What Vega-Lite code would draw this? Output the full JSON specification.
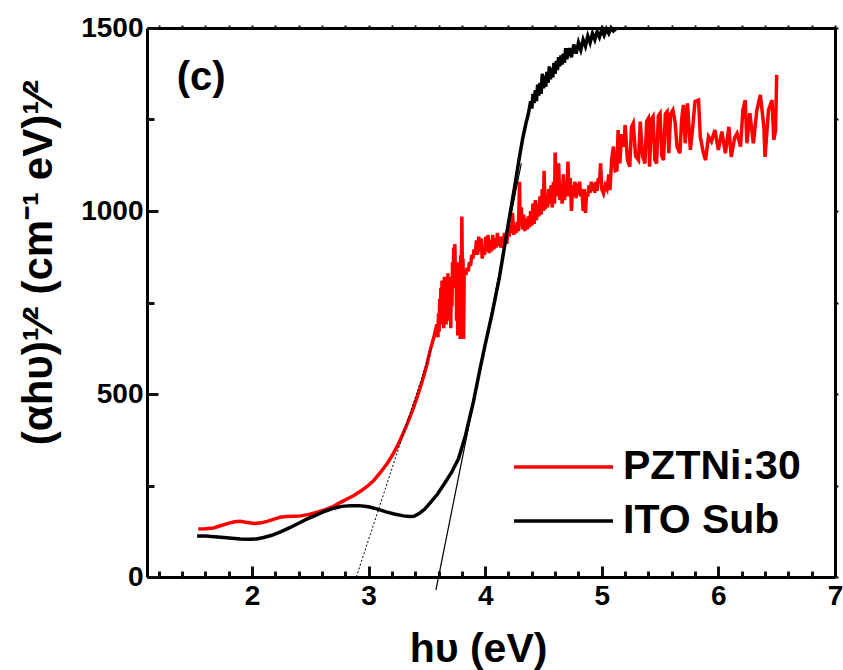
{
"$schema": "https://vega.github.io/schema/vega-lite/v6.json",
"width": 688,
"height": 549,
"autosize": {"type": "none"},
"padding": {"left": 147, "top": 28, "right": 8, "bottom": 93},
"background": "white",
"config": {"view": {"stroke": null}, "font": "Liberation Sans", "axis": {"grid": false}},
"datasets": {
"pztni": [
{"x":1.54,"y":131},{"x":1.60,"y":132},{"x":1.67,"y":134},{"x":1.73,"y":140},{"x":1.79,"y":146},{"x":1.85,"y":151},{"x":1.90,"y":152},{"x":1.96,"y":149},{"x":2.02,"y":146},{"x":2.08,"y":148},{"x":2.13,"y":152},{"x":2.19,"y":158},{"x":2.24,"y":163},{"x":2.30,"y":165},{"x":2.36,"y":166},{"x":2.42,"y":167},{"x":2.49,"y":171},{"x":2.56,"y":177},{"x":2.63,"y":184},{"x":2.70,"y":193},{"x":2.76,"y":204},{"x":2.82,"y":214},{"x":2.87,"y":222},{"x":2.93,"y":234},{"x":2.99,"y":248},{"x":3.04,"y":262},{"x":3.10,"y":285},{"x":3.16,"y":310},{"x":3.21,"y":336},{"x":3.26,"y":366},{"x":3.30,"y":395},{"x":3.34,"y":425},{"x":3.38,"y":458},{"x":3.42,"y":495},{"x":3.46,"y":535},{"x":3.50,"y":580},{"x":3.53,"y":622},{"x":3.56,"y":655},
{"x":3.585,"y":690},{"x":3.595,"y":655},{"x":3.600,"y":720},{"x":3.605,"y":670},{"x":3.610,"y":760},{"x":3.615,"y":700},{"x":3.620,"y":790},{"x":3.625,"y":690},{"x":3.630,"y":810},{"x":3.635,"y":720},{"x":3.640,"y":760},{"x":3.645,"y":680},{"x":3.650,"y":820},{"x":3.655,"y":700},{"x":3.660,"y":770},{"x":3.665,"y":690},{"x":3.670,"y":800},{"x":3.675,"y":700},{"x":3.680,"y":830},{"x":3.685,"y":760},{"x":3.690,"y":720},{"x":3.695,"y":800},{"x":3.700,"y":760},{"x":3.705,"y":680},{"x":3.710,"y":820},{"x":3.715,"y":740},{"x":3.720,"y":860},{"x":3.725,"y":790},{"x":3.730,"y":900},{"x":3.735,"y":800},{"x":3.740,"y":910},{"x":3.745,"y":820},{"x":3.750,"y":860},{"x":3.755,"y":700},{"x":3.760,"y":830},{"x":3.765,"y":660},{"x":3.770,"y":850},{"x":3.775,"y":700},{"x":3.780,"y":860},{"x":3.785,"y":650},{"x":3.790,"y":880},{"x":3.795,"y":800},{"x":3.800,"y":985},{"x":3.805,"y":820},{"x":3.810,"y":870},{"x":3.815,"y":650},{"x":3.820,"y":830},{"x":3.825,"y":840},{"x":3.835,"y":825},{"x":3.845,"y":845},{"x":3.855,"y":835},{"x":3.865,"y":860},{"x":3.875,"y":850},{"x":3.885,"y":880},{"x":3.895,"y":870},{"x":3.905,"y":895},{"x":3.915,"y":880},{"x":3.925,"y":920},{"x":3.935,"y":880},{"x":3.945,"y":930},{"x":3.955,"y":890},{"x":3.965,"y":925},{"x":3.975,"y":870},{"x":3.985,"y":900},{"x":3.995,"y":880},{"x":4.005,"y":930},{"x":4.015,"y":890},{"x":4.025,"y":935},{"x":4.035,"y":885},{"x":4.045,"y":920},{"x":4.055,"y":890},{"x":4.065,"y":935},{"x":4.075,"y":895},{"x":4.085,"y":925},{"x":4.095,"y":900},{"x":4.105,"y":940},{"x":4.115,"y":905},{"x":4.125,"y":930},{"x":4.135,"y":900},{"x":4.145,"y":915},{"x":4.155,"y":905},{"x":4.165,"y":940},{"x":4.175,"y":920},{"x":4.185,"y":910},{"x":4.195,"y":950},{"x":4.205,"y":930},{"x":4.215,"y":960},{"x":4.225,"y":940},{"x":4.235,"y":995},{"x":4.245,"y":935},{"x":4.255,"y":960},{"x":4.265,"y":940},{"x":4.275,"y":970},{"x":4.285,"y":945},{"x":4.295,"y":1080},{"x":4.300,"y":960},{"x":4.310,"y":1010},{"x":4.320,"y":950},{"x":4.330,"y":990},{"x":4.340,"y":945},{"x":4.350,"y":980},{"x":4.360,"y":950},{"x":4.370,"y":985},{"x":4.380,"y":955},{"x":4.390,"y":1000},{"x":4.400,"y":960},{"x":4.410,"y":1020},{"x":4.420,"y":965},{"x":4.430,"y":1030},{"x":4.440,"y":975},{"x":4.450,"y":1020},{"x":4.460,"y":985},{"x":4.470,"y":1040},{"x":4.480,"y":990},{"x":4.490,"y":1060},{"x":4.500,"y":1000},{"x":4.505,"y":1110},{"x":4.515,"y":1005},{"x":4.525,"y":1040},{"x":4.535,"y":1010},{"x":4.545,"y":1060},{"x":4.555,"y":1020},{"x":4.565,"y":1070},{"x":4.575,"y":1010},{"x":4.585,"y":1080},{"x":4.595,"y":1020},{"x":4.600,"y":1160},{"x":4.610,"y":1040},{"x":4.620,"y":1090},{"x":4.630,"y":1130},{"x":4.640,"y":1030},{"x":4.650,"y":1070},{"x":4.660,"y":1020},{"x":4.670,"y":1100},{"x":4.680,"y":1030},{"x":4.690,"y":1080},{"x":4.700,"y":1040},{"x":4.710,"y":1135},{"x":4.720,"y":1040},{"x":4.730,"y":1090},{"x":4.740,"y":1000},{"x":4.750,"y":1070},{"x":4.760,"y":1040},{"x":4.770,"y":1080},{"x":4.780,"y":1035},{"x":4.790,"y":1075},{"x":4.800,"y":1045},{"x":4.810,"y":1080},{"x":4.820,"y":1040},{"x":4.830,"y":1060},{"x":4.840,"y":1000},{"x":4.850,"y":1060},{"x":4.860,"y":995},{"x":4.870,"y":1050},{"x":4.880,"y":1040},{"x":4.890,"y":1070},{"x":4.900,"y":1050},{"x":4.910,"y":1080},{"x":4.920,"y":1055},{"x":4.930,"y":1075},{"x":4.940,"y":1050},{"x":4.950,"y":1080},{"x":4.960,"y":1055},{"x":4.970,"y":1090},{"x":4.980,"y":1076},{"x":4.990,"y":1130},{"x":5.000,"y":1060},{"x":5.015,"y":1048},{"x":5.030,"y":1070},{"x":5.045,"y":1060},{"x":5.060,"y":1100},{"x":5.070,"y":1057},{"x":5.085,"y":1140},{"x":5.100,"y":1176},{"x":5.115,"y":1110},{"x":5.130,"y":1112},{"x":5.140,"y":1221},{"x":5.155,"y":1130},{"x":5.170,"y":1210},{"x":5.190,"y":1176},{"x":5.200,"y":1235},{"x":5.220,"y":1140},{"x":5.240,"y":1121},{"x":5.255,"y":1230},{"x":5.270,"y":1240},{"x":5.290,"y":1150},{"x":5.315,"y":1139},{"x":5.330,"y":1244},{"x":5.350,"y":1150},{"x":5.370,"y":1130},{"x":5.385,"y":1245},{"x":5.400,"y":1253},{"x":5.410,"y":1121},{"x":5.425,"y":1250},{"x":5.440,"y":1258},{"x":5.455,"y":1140},{"x":5.470,"y":1130},{"x":5.485,"y":1260},{"x":5.500,"y":1267},{"x":5.515,"y":1150},{"x":5.530,"y":1139},{"x":5.545,"y":1265},{"x":5.560,"y":1271},{"x":5.575,"y":1158},{"x":5.590,"y":1265},{"x":5.610,"y":1276},{"x":5.630,"y":1240},{"x":5.645,"y":1176},{"x":5.670,"y":1158},{"x":5.685,"y":1250},{"x":5.700,"y":1290},{"x":5.715,"y":1185},{"x":5.735,"y":1294},{"x":5.760,"y":1167},{"x":5.780,"y":1230},{"x":5.800,"y":1299},{"x":5.830,"y":1303},{"x":5.845,"y":1203},{"x":5.870,"y":1160},{"x":5.890,"y":1139},{"x":5.915,"y":1203},{"x":5.940,"y":1190},{"x":5.970,"y":1221},{"x":6.000,"y":1167},{"x":6.030,"y":1217},{"x":6.060,"y":1158},{"x":6.090,"y":1230},{"x":6.110,"y":1148},{"x":6.140,"y":1200},{"x":6.160,"y":1212},{"x":6.190,"y":1176},{"x":6.210,"y":1276},{"x":6.230,"y":1303},{"x":6.245,"y":1185},{"x":6.270,"y":1267},{"x":6.300,"y":1185},{"x":6.330,"y":1276},{"x":6.360,"y":1317},{"x":6.390,"y":1230},{"x":6.400,"y":1148},{"x":6.430,"y":1276},{"x":6.460,"y":1303},{"x":6.475,"y":1194},{"x":6.490,"y":1220},{"x":6.500,"y":1372}
],
"ito": [
{"x":1.53,"y":112},{"x":1.60,"y":112},{"x":1.68,"y":110},{"x":1.76,"y":108},{"x":1.83,"y":106},{"x":1.90,"y":104},{"x":1.98,"y":103},{"x":2.04,"y":104},{"x":2.10,"y":108},{"x":2.17,"y":114},{"x":2.25,"y":124},{"x":2.32,"y":134},{"x":2.40,"y":147},{"x":2.47,"y":158},{"x":2.55,"y":169},{"x":2.62,"y":179},{"x":2.70,"y":188},{"x":2.77,"y":193},{"x":2.85,"y":195},{"x":2.92,"y":195},{"x":3.00,"y":192},{"x":3.07,"y":186},{"x":3.15,"y":178},{"x":3.22,"y":172},{"x":3.30,"y":167},{"x":3.35,"y":165},{"x":3.39,"y":166},{"x":3.44,"y":175},{"x":3.48,"y":185},{"x":3.53,"y":203},{"x":3.59,"y":226},{"x":3.65,"y":255},{"x":3.71,"y":285},{"x":3.77,"y":322},{"x":3.83,"y":385},{"x":3.90,"y":480},{"x":3.96,"y":575},{"x":4.00,"y":635},{"x":4.06,"y":720},{"x":4.12,"y":815},{"x":4.18,"y":930},{"x":4.22,"y":1005},{"x":4.26,"y":1080},{"x":4.29,"y":1140},{"x":4.32,"y":1195},{"x":4.35,"y":1240},{"x":4.37,"y":1265},
{"x":4.39,"y":1300},{"x":4.40,"y":1280},{"x":4.41,"y":1320},{"x":4.42,"y":1295},{"x":4.43,"y":1330},{"x":4.44,"y":1300},{"x":4.45,"y":1345},{"x":4.46,"y":1315},{"x":4.47,"y":1350},{"x":4.48,"y":1320},{"x":4.49,"y":1375},{"x":4.50,"y":1335},{"x":4.51,"y":1370},{"x":4.52,"y":1340},{"x":4.53,"y":1380},{"x":4.54,"y":1350},{"x":4.55,"y":1395},{"x":4.56,"y":1360},{"x":4.57,"y":1390},{"x":4.58,"y":1365},{"x":4.59,"y":1405},{"x":4.60,"y":1375},{"x":4.61,"y":1410},{"x":4.62,"y":1385},{"x":4.63,"y":1420},{"x":4.64,"y":1395},{"x":4.65,"y":1425},{"x":4.66,"y":1400},{"x":4.67,"y":1430},{"x":4.68,"y":1405},{"x":4.69,"y":1445},{"x":4.70,"y":1415},{"x":4.72,"y":1445},{"x":4.74,"y":1420},{"x":4.76,"y":1455},{"x":4.78,"y":1430},{"x":4.80,"y":1460},{"x":4.82,"y":1440},{"x":4.84,"y":1468},{"x":4.86,"y":1450},{"x":4.88,"y":1478},{"x":4.90,"y":1460},{"x":4.92,"y":1485},{"x":4.94,"y":1468},{"x":4.96,"y":1490},{"x":4.98,"y":1475},{"x":5.00,"y":1495},{"x":5.02,"y":1480},{"x":5.04,"y":1497},{"x":5.06,"y":1485},{"x":5.08,"y":1500},{"x":5.10,"y":1492},{"x":5.13,"y":1500}
],
"fit_dotted": [{"x":2.895,"y":0},{"x":3.545,"y":630}],
"fit_solid": [{"x":3.578,"y":-35},{"x":4.31,"y":1130}],
"panel": [{"label":"(c)"}]
},
"layer": [
{
"data": {"name": "pztni"},
"mark": {"type": "line", "strokeWidth": 3.5},
"encoding": {
"x": {"field": "x", "type": "quantitative", "scale": {"domain": [1.1, 7], "nice": false, "zero": false}, "axis": null},
"y": {"field": "y", "type": "quantitative", "scale": {"domain": [0, 1500], "nice": false}, "axis": null},
"color": {"datum": "PZTNi:30", "type": "nominal", "scale": {"domain": ["PZTNi:30", "ITO Sub"], "range": ["#ff0000", "#000000"]},
"legend": {"orient": "none", "legendX": 365, "legendY": 414, "title": null, "symbolType": "stroke", "symbolSize": 9801, "symbolStrokeWidth": 3.5, "labelFontSize": 41, "labelFontWeight": "bold", "labelFont": "Liberation Sans", "labelColor": "black", "labelOffset": 8, "clipHeight": 50, "rowPadding": 4, "padding": 0, "labelLimit": 400}}
}
},
{
"data": {"name": "ito"},
"mark": {"type": "line", "strokeWidth": 3.5},
"encoding": {
"x": {"field": "x", "type": "quantitative", "axis": {"orient": "top", "zindex": 1, "values": [1.2,1.4,1.6,1.8,2,2.2,2.4,2.6,2.8,3,3.2,3.4,3.6,3.8,4,4.2,4.4,4.6,4.8,5,5.2,5.4,5.6,5.8,6,6.2,6.4,6.6,6.8,7], "labels": false, "title": null, "tickSize": 3, "tickWidth": 2, "tickColor": "#111111", "domainWidth": 3, "domainColor": "#000000"}},
"y": {"field": "y", "type": "quantitative", "axis": {"orient": "right", "zindex": 1, "values": [0,250,500,750,1000,1250,1500], "labels": false, "title": null, "tickSize": 3, "tickWidth": 2, "tickColor": "#111111", "domainWidth": 3, "domainColor": "#000000"}},
"color": {"datum": "ITO Sub", "type": "nominal"}
}
},
{
"data": {"name": "fit_dotted"},
"mark": {"type": "line", "strokeWidth": 1, "strokeDash": [2, 2], "color": "black"},
"encoding": {
"x": {"field": "x", "type": "quantitative",
"axis": {"orient": "bottom", "zindex": 1, "values": [2,3,4,5,6,7], "format": "d", "tickSize": -11, "tickWidth": 3, "tickColor": "#111111",
"domainWidth": 3, "domainColor": "#000000",
"labelFontSize": 28, "labelFontWeight": "bold", "labelColor": "#000000", "labelPadding": 16, "labelFlush": false, "labelOverlap": false,
"title": "hυ (eV)", "titleFontSize": 41, "titleFontWeight": "bold", "titleColor": "#000000", "titleX": 331, "titleY": 84, "titleBaseline": "alphabetic", "titleAlign": "center"}},
"y": {"field": "y", "type": "quantitative",
"axis": {"orient": "left", "zindex": 1, "values": [0,500,1000,1500], "format": "d", "tickSize": -11, "tickWidth": 3, "tickColor": "#111111",
"domainWidth": 3, "domainColor": "#000000",
"labelFontSize": 28, "labelFontWeight": "bold", "labelColor": "#000000", "labelPadding": 15, "labelOverlap": false,
"title": "(αhυ)¹⁄² (cm⁻¹ eV)¹⁄²", "titleFontSize": 42, "titleFontWeight": "bold", "titleColor": "#000000", "titleX": -96, "titleY": 234, "titleBaseline": "alphabetic", "titleAlign": "center", "titleAngle": -90}}
}
},
{
"data": {"name": "fit_solid"},
"mark": {"type": "line", "strokeWidth": 1.2, "color": "black"},
"encoding": {
"x": {"field": "x", "type": "quantitative", "axis": {"orient": "bottom", "zindex": 1, "values": [1.2,1.4,1.6,1.8,2.2,2.4,2.6,2.8,3.2,3.4,3.6,3.8,4.2,4.4,4.6,4.8,5.2,5.4,5.6,5.8,6.2,6.4,6.6,6.8], "labels": false, "title": null, "domain": false, "tickSize": -6, "tickWidth": 3, "tickColor": "#111111"}},
"y": {"field": "y", "type": "quantitative", "axis": {"orient": "left", "zindex": 1, "values": [250,750,1250], "labels": false, "title": null, "domain": false, "tickSize": -7, "tickWidth": 3, "tickColor": "#111111"}}
}
},
{
"data": {"name": "panel"},
"mark": {"type": "text", "fontSize": 40, "fontWeight": "bold", "font": "Liberation Sans", "align": "left", "baseline": "alphabetic", "color": "black"},
"encoding": {
"x": {"datum": 1.355, "type": "quantitative", "axis": null},
"y": {"datum": 1330, "type": "quantitative", "axis": null},
"text": {"field": "label"}
}
}
],
"resolve": {"axis": {"x": "independent", "y": "independent"}}
}
